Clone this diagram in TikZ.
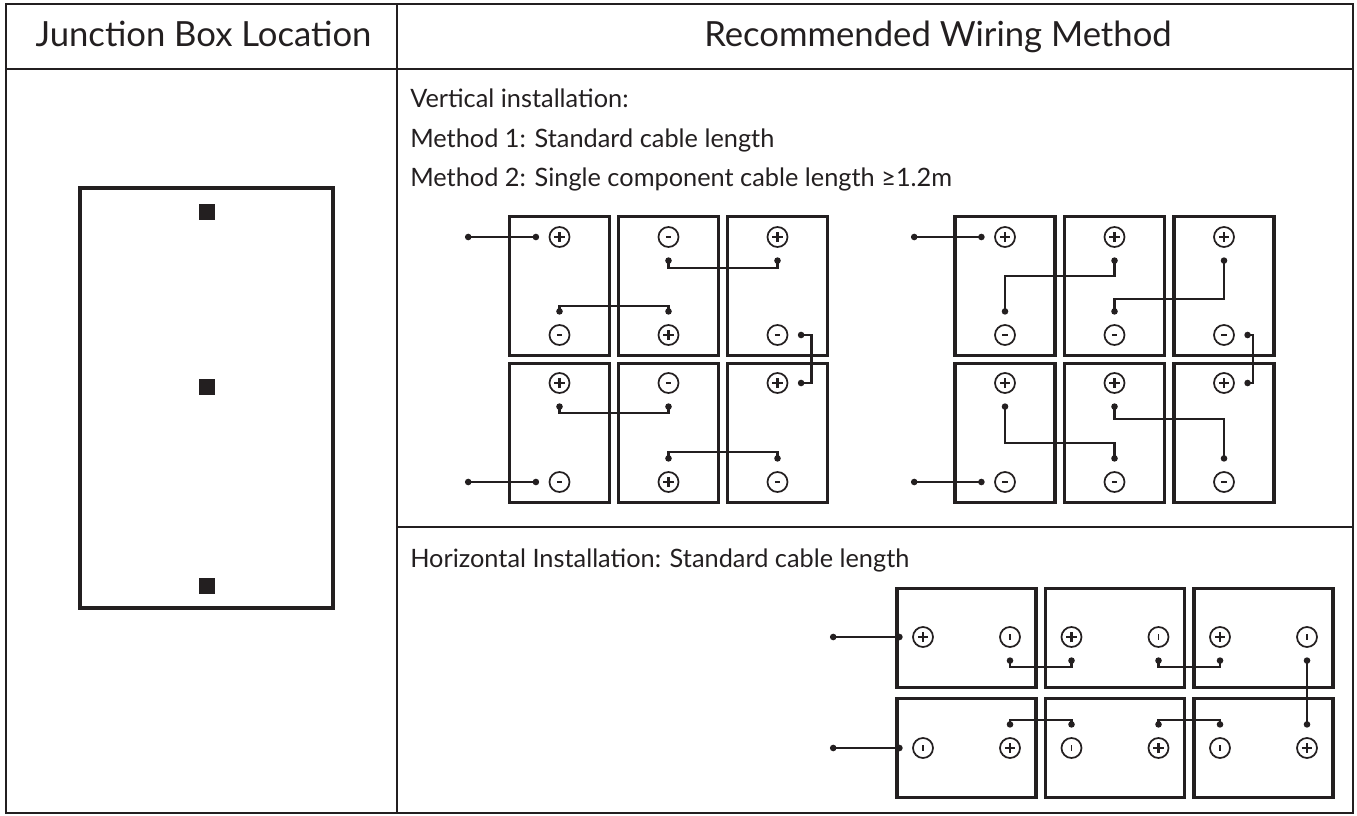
\documentclass[tikz,border=0pt]{standalone}
\usepackage{fontspec}
\setmainfont{Lato}
\usetikzlibrary{arrows.meta}
\definecolor{ink}{RGB}{35, 31, 32}

\tikzset{
        rule/.style={draw=ink,line width=1.5pt},
        headtext/.style={text=ink,anchor=base,inner sep=0pt,font=\fontsize{26}{31}\selectfont},
        bodytext/.style={text=ink,anchor=base west,inner sep=0pt,font=\fontsize{19}{23}\selectfont},
        vpanel/.style={draw=ink,line width=2.6pt,inner sep=0pt,minimum width=75pt,minimum height=104pt},
        hpanel/.style={draw=ink,line width=2.6pt,inner sep=0pt,minimum width=104.5pt,minimum height=74.5pt},
        term/.style={draw=ink,circle,line width=1.3pt,inner sep=0pt,minimum size=15pt,outer sep=7.8pt},
        plusterm/.style={term,path picture={
                \draw[ink,line width=1.6pt] ([xshift=-3.8pt]path picture bounding box.center) -- ([xshift=3.8pt]path picture bounding box.center)
                        ([yshift=-3.8pt]path picture bounding box.center) -- ([yshift=3.8pt]path picture bounding box.center);}},
        minusterm/.style={term,path picture={
                \draw[ink,line width=1.6pt] ([xshift=-1.9pt]path picture bounding box.center) -- ([xshift=1.9pt]path picture bounding box.center);}},
        tickterm/.style={term,path picture={
                \draw[ink,line width=1.4pt] ([yshift=-1.9pt]path picture bounding box.center) -- ([yshift=1.9pt]path picture bounding box.center);}},
        wire/.style={draw=ink,line width=1.8pt,{Circle[length=4.8pt]}-{Circle[length=4.8pt]}}
}

\begin{document}
\begin{tikzpicture}[x=0.75pt,y=-0.75pt]
        \useasboundingbox (0,0) rectangle (1357,816);

        \draw[rule] (6,4) rectangle (1353,813);
        \draw[rule] (6,69) -- (1353,69);
        \draw[rule] (397,4) -- (397,813);
        \draw[rule] (397,527) -- (1353,527);

        \node[headtext] (jhead) at (203.5,47) {Junction Box Location};
        \node[headtext,anchor=base west] (whead) at (704,47) {Recommended Wiring Method};

        \node[bodytext] (vtitle) at (410,108) {Vertical installation:};
        \node[bodytext] (mone) at (410,148) {Method 1: Standard cable length};
        \node[bodytext] (mtwo) at (410,187) {Method 2: Single component cable length ≥1.2m};
        \node[bodytext] (htitle) at (410,567) {Horizontal Installation: Standard cable length};

        \draw[ink,line width=3pt] (80,188) rectangle (333,608);
        \fill[ink] (199,204) rectangle (215,220);
        \fill[ink] (199,379) rectangle (215,395);
        \fill[ink] (199,578) rectangle (215,594);

        \coordinate (a0) at (465,237);
        \coordinate (a9) at (465,482);
        \coordinate (b0) at (911,237);
        \coordinate (b9) at (911,482);
        \coordinate (h0) at (830,637);
        \coordinate (h9) at (830,748);

        \node[vpanel] (a1) at (559.5,286) {};
        \node[vpanel] (a2) at (668.5,286) {};
        \node[vpanel] (a3) at (777.5,286) {};
        \node[vpanel] (a4) at (559.5,433) {};
        \node[vpanel] (a5) at (668.5,433) {};
        \node[vpanel] (a6) at (777.5,433) {};

        \node[plusterm] (a1p) at (559.5,237) {};
        \node[minusterm] (a1m) at (559.5,335) {};
        \node[minusterm] (a2m) at (668.5,237) {};
        \node[plusterm] (a2p) at (668.5,335) {};
        \node[plusterm] (a3p) at (777.5,237) {};
        \node[minusterm] (a3m) at (777.5,335) {};
        \node[plusterm] (a4p) at (559.5,383) {};
        \node[minusterm] (a4m) at (559.5,482) {};
        \node[minusterm] (a5m) at (668.5,383) {};
        \node[plusterm] (a5p) at (668.5,482) {};
        \node[plusterm] (a6p) at (777.5,383) {};
        \node[minusterm] (a6m) at (777.5,482) {};

        \node[vpanel] (b1) at (1005,286) {};
        \node[vpanel] (b2) at (1114.5,286) {};
        \node[vpanel] (b3) at (1224,286) {};
        \node[vpanel] (b4) at (1005,433) {};
        \node[vpanel] (b5) at (1114.5,433) {};
        \node[vpanel] (b6) at (1224,433) {};

        \node[plusterm] (b1p) at (1005,237) {};
        \node[minusterm] (b1m) at (1005,335) {};
        \node[plusterm] (b2p) at (1114.5,237) {};
        \node[minusterm] (b2m) at (1114.5,335) {};
        \node[plusterm] (b3p) at (1224,237) {};
        \node[minusterm] (b3m) at (1224,335) {};
        \node[plusterm] (b4p) at (1005,383) {};
        \node[minusterm] (b4m) at (1005,482) {};
        \node[plusterm] (b5p) at (1114.5,383) {};
        \node[minusterm] (b5m) at (1114.5,482) {};
        \node[plusterm] (b6p) at (1224,383) {};
        \node[minusterm] (b6m) at (1224,482) {};

        \node[hpanel] (h1) at (966.5,638) {};
        \node[hpanel] (h2) at (1115,638) {};
        \node[hpanel] (h3) at (1263.5,638) {};
        \node[hpanel] (h4) at (966.5,748) {};
        \node[hpanel] (h5) at (1115,748) {};
        \node[hpanel] (h6) at (1263.5,748) {};

        \node[plusterm] (h1p) at (923,637) {};
        \node[tickterm] (h1m) at (1010,637) {};
        \node[plusterm] (h2p) at (1071.5,637) {};
        \node[tickterm] (h2m) at (1158.5,637) {};
        \node[plusterm] (h3p) at (1220,637) {};
        \node[tickterm] (h3m) at (1307,637) {};
        \node[tickterm] (h4m) at (923,748) {};
        \node[plusterm] (h4p) at (1010,748) {};
        \node[tickterm] (h5m) at (1071.5,748) {};
        \node[plusterm] (h5p) at (1158.5,748) {};
        \node[tickterm] (h6m) at (1220,748) {};
        \node[plusterm] (h6p) at (1307,748) {};

        \draw[wire] (a0) -- (a1p.west);
        \draw[wire] (a1m.north) -- ++(0,-8.5) -| (a2p.north);
        \draw[wire] (a2m.south) -- ++(0,10.5) -| (a3p.south);
        \draw[wire] (a3m.east) -- ++(13.5,0) |- (a6p.east);
        \draw[wire] (a4p.south) -- ++(0,9.5) -| (a5m.south);
        \draw[wire] (a5p.north) -- ++(0,-9.5) -| (a6m.north);
        \draw[wire] (a9) -- (a4m.west);

        \draw[wire] (b0) -- (b1p.west);
        \draw[wire] (b1m.north) -- ++(0,-38.5) -| (b2p.south);
        \draw[wire] (b2m.north) -- ++(0,-15.5) -| (b3p.south);
        \draw[wire] (b3m.east) -- ++(8.5,0) |- (b6p.east);
        \draw[wire] (b4p.south) -- ++(0,39.5) -| (b5m.north);
        \draw[wire] (b5p.south) -- ++(0,15.5) -| (b6m.north);
        \draw[wire] (b9) -- (b4m.west);

        \draw[wire] (h0) -- (h1p.west);
        \draw[wire] (h1m.south) -- ++(0,9.5) -| (h2p.south);
        \draw[wire] (h2m.south) -- ++(0,9.5) -| (h3p.south);
        \draw[wire] (h3m.south) -- (h6p.north);
        \draw[wire] (h4p.north) -- ++(0,-7.5) -| (h5m.north);
        \draw[wire] (h5p.north) -- ++(0,-7.5) -| (h6m.north);
        \draw[wire] (h9) -- (h4m.west);
\end{tikzpicture}
\end{document}
